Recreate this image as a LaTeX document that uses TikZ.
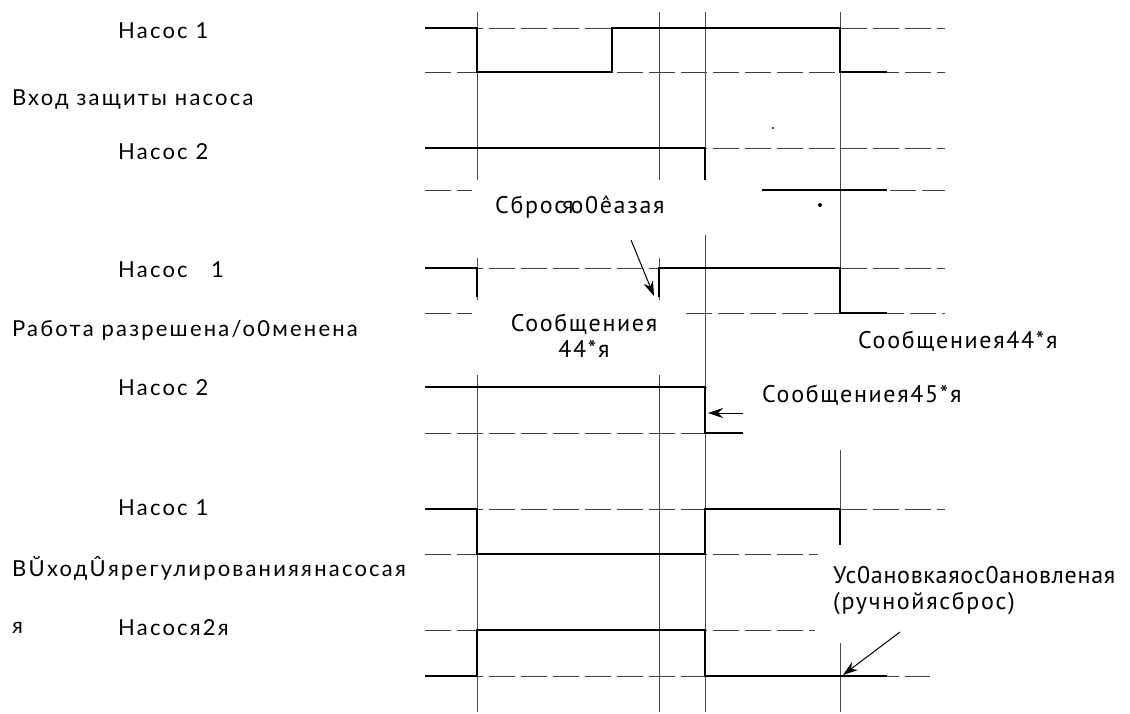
\documentclass[tikz,border=0pt]{standalone}
\usepackage{fontspec}
\setmainfont[LetterSpace=10]{Lato}
\newfontfamily\notefont[LetterSpace=7]{PT Sans}
\newfontfamily\tightnotefont[LetterSpace=3]{PT Sans}
\usetikzlibrary{arrows.meta}

\begin{document}
\begin{tikzpicture}[x=1pt, y=-1pt,
    lbl/.style={anchor=west, inner sep=0pt, font=\fontsize{22}{24}\selectfont},
    note/.style={anchor=west, inner sep=0pt, font=\notefont\fontsize{24}{26}\selectfont},
    level/.style={line width=0.9pt, black!75, dash pattern=on 26pt off 6pt},
    vline/.style={line width=0.7pt, black!70},
    sig/.style={line width=2.3pt},
    pointer/.style={-{Stealth[length=15pt, width=10pt]}, line width=1pt}]
    \useasboundingbox (0,0) rectangle (1130,713);

    % row labels
    \node[lbl] (pA) at (118,31) {Насос 1};
    \node[lbl] (inA) at (12,100) {Вход защиты насоса};
    \node[lbl] (pB) at (118,152) {Насос 2};
    \node[lbl] (pC) at (118,270) {Насос \ \ 1};
    \node[lbl] (inC) at (12,330) {Работа разрешена/о0менена};
    \node[lbl] (pD) at (118,388) {Насос 2};
    \node[lbl] (pE) at (118,508) {Насос 1};
    \node[lbl] (inE) at (12,568) {ВŬходÛярегулированияянасосая};
    \node[lbl] (yaF) at (12,628) {я};
    \node[lbl] (pF) at (118,628) {Насося2я};

    % time marks
    \draw[vline] (477,12) -- (477,180) (477,258) -- (477,300) (477,375) -- (477,712);
    \draw[vline] (659,12) -- (659,180) (659,258) -- (659,300) (659,375) -- (659,712);
    \draw[vline] (705,12) -- (705,180) (705,235) -- (705,712);
    \draw[vline] (840,12) -- (840,313) (840,450) -- (840,545) (840,643) -- (840,712);

    % levels
    \draw[level] (425,28) -- (945,28) (425,72) -- (945,72);
    \draw[level] (425,148) -- (945,148) (425,190) -- (472,190) (762,190) -- (945,190);
    \draw[level] (425,268) -- (945,268) (425,313) -- (472,313) (686,313) -- (945,313);
    \draw[level] (425,387) -- (712,387) (425,433) -- (743,433);
    \draw[level] (425,509) -- (945,509) (425,554) -- (818,554);
    \draw[level] (425,630) -- (815,630) (425,676) -- (930,676);

    % signals
    \draw[sig] (425,28) -| (477,72) -| (612,28) -| (840,72) -- (887,72);
    \draw[sig] (425,148) -| (705,180);
    \draw[sig] (762,190) -- (887,190);
    \draw[sig] (425,268) -| (477,297);
    \draw[sig] (659,297) |- (840,268) -- (840,313) -- (887,313);
    \draw[sig] (425,387) -| (705,433) -- (743,433);
    \draw[sig] (425,509) -| (477,554) -| (705,509) -| (840,545);
    \draw[sig] (425,676) -| (477,630) -| (705,676) -- (887,676);

    % specks
    \fill (773,128) circle (1.2);
    \fill (820,205) circle (2);

    % notes
    \node[note] (reset) at (495,207) {Сброс\kern-3pt я\kern-3pt о0êазая};
    \node[note, anchor=center, align=center] (msgC) at (584,336) {Сообщениея\\44*я};
    \node[note] (msgCr) at (858,341) {Сообщениея44*я};
    \node[note] (msgD) at (762,395) {Сообщениея45*я};
    \node[note, align=left] (setF) at (833,591) {{\tightnotefont Ус0ановкаяос0ановленая}\\(ручнойясброс)};

    % pointers
    \coordinate (cS) at (631,240);
    \coordinate (cT) at (654,296);
    \coordinate (dS) at (743,413);
    \coordinate (dT) at (708,413);
    \coordinate (fS) at (900,632);
    \coordinate (fT) at (843,675);
    \draw[pointer] (cS) -- (cT);
    \draw[pointer] (dS) -- (dT);
    \draw[pointer] (fS) -- (fT);
\end{tikzpicture}
\end{document}
